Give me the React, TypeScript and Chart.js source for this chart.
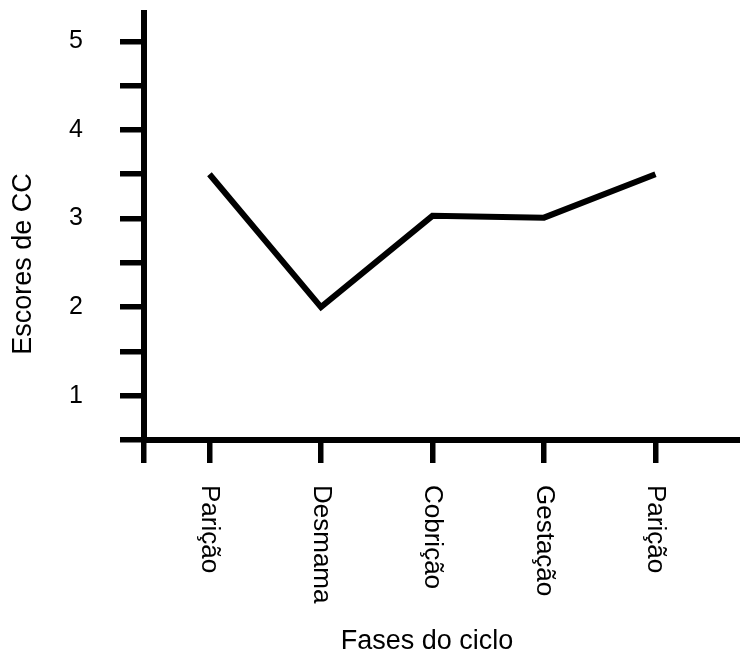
import React, { useEffect, useRef } from 'react';
import { Chart, registerables } from 'chart.js';
Chart.register(...registerables);

const categories = ['Parição', 'Desmama', 'Cobrição', 'Gestação', 'Parição'];
const scores = [3.5, 2.0, 3.03, 3.01, 3.5];
const yTicks = [0.5, 1, 1.5, 2, 2.5, 3, 3.5, 4, 4.5, 5];
const yTickLabels = ['', '1', '', '2', '', '3', '', '4', '', '5'];
const xTitle = 'Fases do ciclo';
const yTitle = 'Escores de CC';

const FONT = '"Liberation Sans", Arial, sans-serif';

const textPlugin = {
  id: 'customText',
  afterDraw(chart: any) {
    const { ctx, chartArea, scales } = chart;
    const xs = scales.x;
    ctx.save();
    ctx.fillStyle = '#000';
    ctx.font = `26px ${FONT}`;
    ctx.textAlign = 'left';
    ctx.textBaseline = 'middle';
    categories.forEach((c, i) => {
      const px = xs.getPixelForValue(i);
      ctx.save();
      ctx.translate(px, chartArea.bottom + 45);
      ctx.rotate(Math.PI / 2);
      ctx.fillText(c, 0, 0);
      ctx.restore();
    });
    ctx.font = `27px ${FONT}`;
    ctx.textAlign = 'center';
    ctx.fillText(xTitle, chartArea.left + 283, chartArea.bottom + 202);
    ctx.save();
    ctx.translate(24, chartArea.bottom - 176);
    ctx.rotate(-Math.PI / 2);
    ctx.fillText(yTitle, 0, 0);
    ctx.restore();
    ctx.restore();
  },
};

export default function App() {
  const ref = useRef<HTMLCanvasElement>(null);
  useEffect(() => {
    document.body.style.margin = '0';
    if (!ref.current) return;
    const chart = new Chart(ref.current, {
      type: 'line',
      data: {
        datasets: [
          {
            data: scores.map((v, i) => ({ x: i, y: v })),
            borderColor: '#000',
            borderWidth: 6,
            pointRadius: 0,
            tension: 0,
            borderJoinStyle: 'miter',
            fill: false,
          },
        ],
      },
      options: {
        animation: false,
        responsive: false,
        layout: { autoPadding: false, padding: { top: 13, left: 0, right: 0, bottom: 0 } },
        plugins: { legend: { display: false }, tooltip: { enabled: false } },
        scales: {
          x: {
            type: 'linear',
            min: -0.587,
            max: 4.758,
            afterBuildTicks: (axis: any) => {
              axis.ticks = [{ value: axis.min }, ...categories.map((_, i) => ({ value: i }))];
            },
            afterFit: (axis: any) => {
              axis.height = 220;
              axis.paddingLeft = 0;
              axis.paddingRight = 0;
            },
            ticks: { display: false },
            grid: {
              display: true,
              drawOnChartArea: false,
              drawTicks: true,
              tickLength: 23,
              lineWidth: 5.5,
              color: '#000',
            },
            border: { display: true, width: 6, color: '#000' },
          },
          y: {
            type: 'linear',
            min: 0.5,
            max: 5.32,
            afterBuildTicks: (axis: any) => {
              axis.ticks = yTicks.map((v) => ({ value: v }));
            },
            afterFit: (axis: any) => {
              axis.width = 144;
              axis.paddingTop = 0;
              axis.paddingBottom = 0;
            },
            ticks: {
              autoSkip: false,
              padding: 37,
              color: '#000',
              font: { size: 25, family: FONT },
              callback: (value: any) => {
                const idx = yTicks.indexOf(Number(value));
                return idx >= 0 ? yTickLabels[idx] : '';
              },
            },
            grid: {
              display: true,
              drawOnChartArea: false,
              drawTicks: true,
              tickLength: 24,
              lineWidth: 5.5,
              color: '#000',
            },
            border: { display: true, width: 6, color: '#000' },
          },
        },
      },
      plugins: [textPlugin],
    });
    return () => chart.destroy();
  }, []);
  return (
    <div style={{ width: 740, height: 660 }}>
      <canvas ref={ref} width={740} height={660} style={{ display: 'block' }} />
    </div>
  );
}
